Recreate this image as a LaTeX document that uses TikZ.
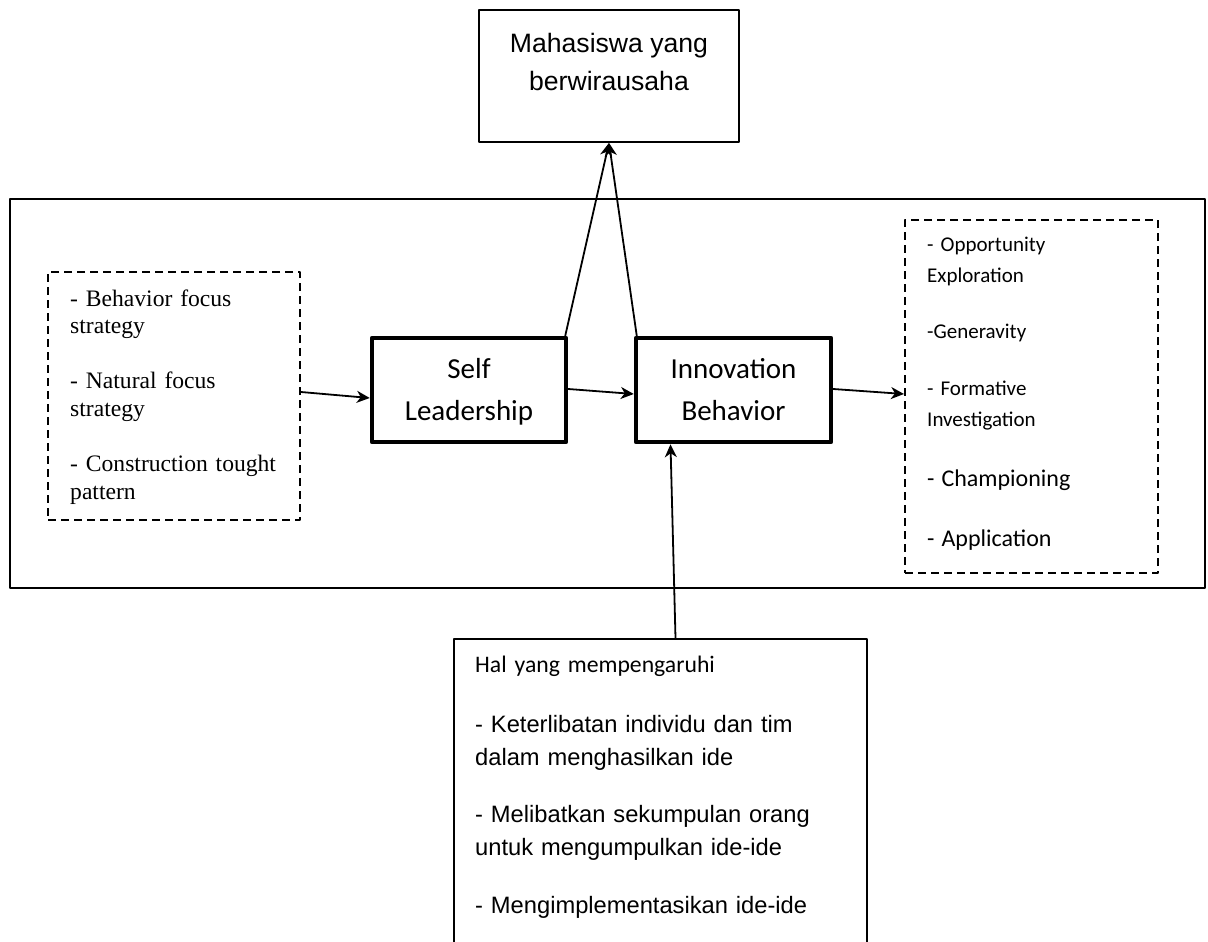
\documentclass[tikz,border=0pt]{standalone}
\usepackage{fontspec}
\setmainfont{Liberation Sans}
\newfontfamily\calibrifont{Carlito}
\newfontfamily\timesfont{Liberation Serif}
\usetikzlibrary{arrows.meta}

\begin{document}
\begin{tikzpicture}[>={Stealth[length=13pt,width=12pt,inset=4pt]},line join=round,line cap=round,x=1pt,y=-1pt,
	plain/.style={draw,line width=1.8pt,inner sep=0pt},
	fat/.style={draw,line width=4.5pt,inner sep=0pt},
	dbox/.style={draw,line width=2pt,line cap=butt,dash pattern=on 8pt off 5pt,inner sep=0pt},
	txt/.style={inner sep=0pt},
	arr/.style={->,line width=1.8pt}]
	\useasboundingbox (0,0) rectangle (1208,942);
	\path
	(609,76) coordinate (T)
	(607.5,393.5) coordinate (F)
	(174,396) coordinate (L)
	(469,390) coordinate (S)
	(733.5,390) coordinate (I)
	(1031.5,396.5) coordinate (R)
	(660.5,814.5) coordinate (H)
	;
	\node[plain,minimum width=260pt,minimum height=132pt] (top) at (T) {};
	\node[plain,minimum width=1195pt,minimum height=389pt] (frame) at (F) {};
	\node[dbox,minimum width=252pt,minimum height=248pt] (lbox) at (L) {};
	\node[fat,minimum width=194pt,minimum height=104pt] (self) at (S) {};
	\node[fat,minimum width=195pt,minimum height=104pt] (innov) at (I) {};
	\node[dbox,minimum width=253pt,minimum height=353pt] (rbox) at (R) {};
	\node[plain,minimum width=413pt,minimum height=351pt] (hal) at (H) {};
	% texts
	\node[txt,anchor=base,align=center,font=\fontsize{26.6}{37}\selectfont] (toptxt) at (609,90) {Mahasiswa yang\\berwirausaha};
	\node[txt,anchor=base,align=center,font=\calibrifont\fontsize{29}{42}\selectfont] (selftxt) at (469,420) {Self\\Leadership};
	\node[txt,anchor=base,align=center,font=\calibrifont\fontsize{29}{42}\selectfont] (innovtxt) at (733.5,420) {Innovation\\Behavior};
	\node[txt,anchor=base west,text width=225pt,align=left,font=\timesfont\fontsize{23.6}{27.5}\selectfont] (ltxt) at (70,306)
	{- Behavior focus\\strategy\\[27.5pt]- Natural focus\\strategy\\[28pt]- Construction tought\\pattern};
	\node[txt,anchor=base west,text width=225pt,align=left,font=\calibrifont\fontsize{21}{31}\selectfont] (rtxt) at (927,251)
	{- Opportunity\\Exploration\\[25pt]-Generavity\\[26pt]- Formative\\Investigation\\[29pt]\fontsize{24}{31}\selectfont - Championing\\[29pt]- Application};
	\node[txt,anchor=base west,text width=385pt,align=left,font=\fontsize{23.7}{33.5}\selectfont] (haltxt) at (475,672)
	{{\calibrifont Hal yang mempengaruhi}\\[26.5pt]- Keterlibatan individu dan tim\\dalam menghasilkan ide\\[23pt]- Melibatkan sekumpulan orang\\untuk mengumpulkan ide-ide\\[24pt]- Mengimplementasikan ide-ide};
	% arrows
	\draw[arr] ([yshift=4pt]lbox.east) -- ([yshift=-8pt]self.west);
	\draw[arr] ([yshift=1pt]self.east) -- ([yshift=-4pt]innov.west);
	\draw[arr] ([yshift=1pt]innov.east) -- ([yshift=2.5pt]rbox.west);
	\draw[arr] ([xshift=-3pt]self.north east) -- (top.south);
	\draw[arr] ([xshift=3pt]innov.north west) -- (top.south);
	\draw[arr] ([xshift=15pt]hal.north) -- ([xshift=-63pt]innov.south);
\end{tikzpicture}
\end{document}
